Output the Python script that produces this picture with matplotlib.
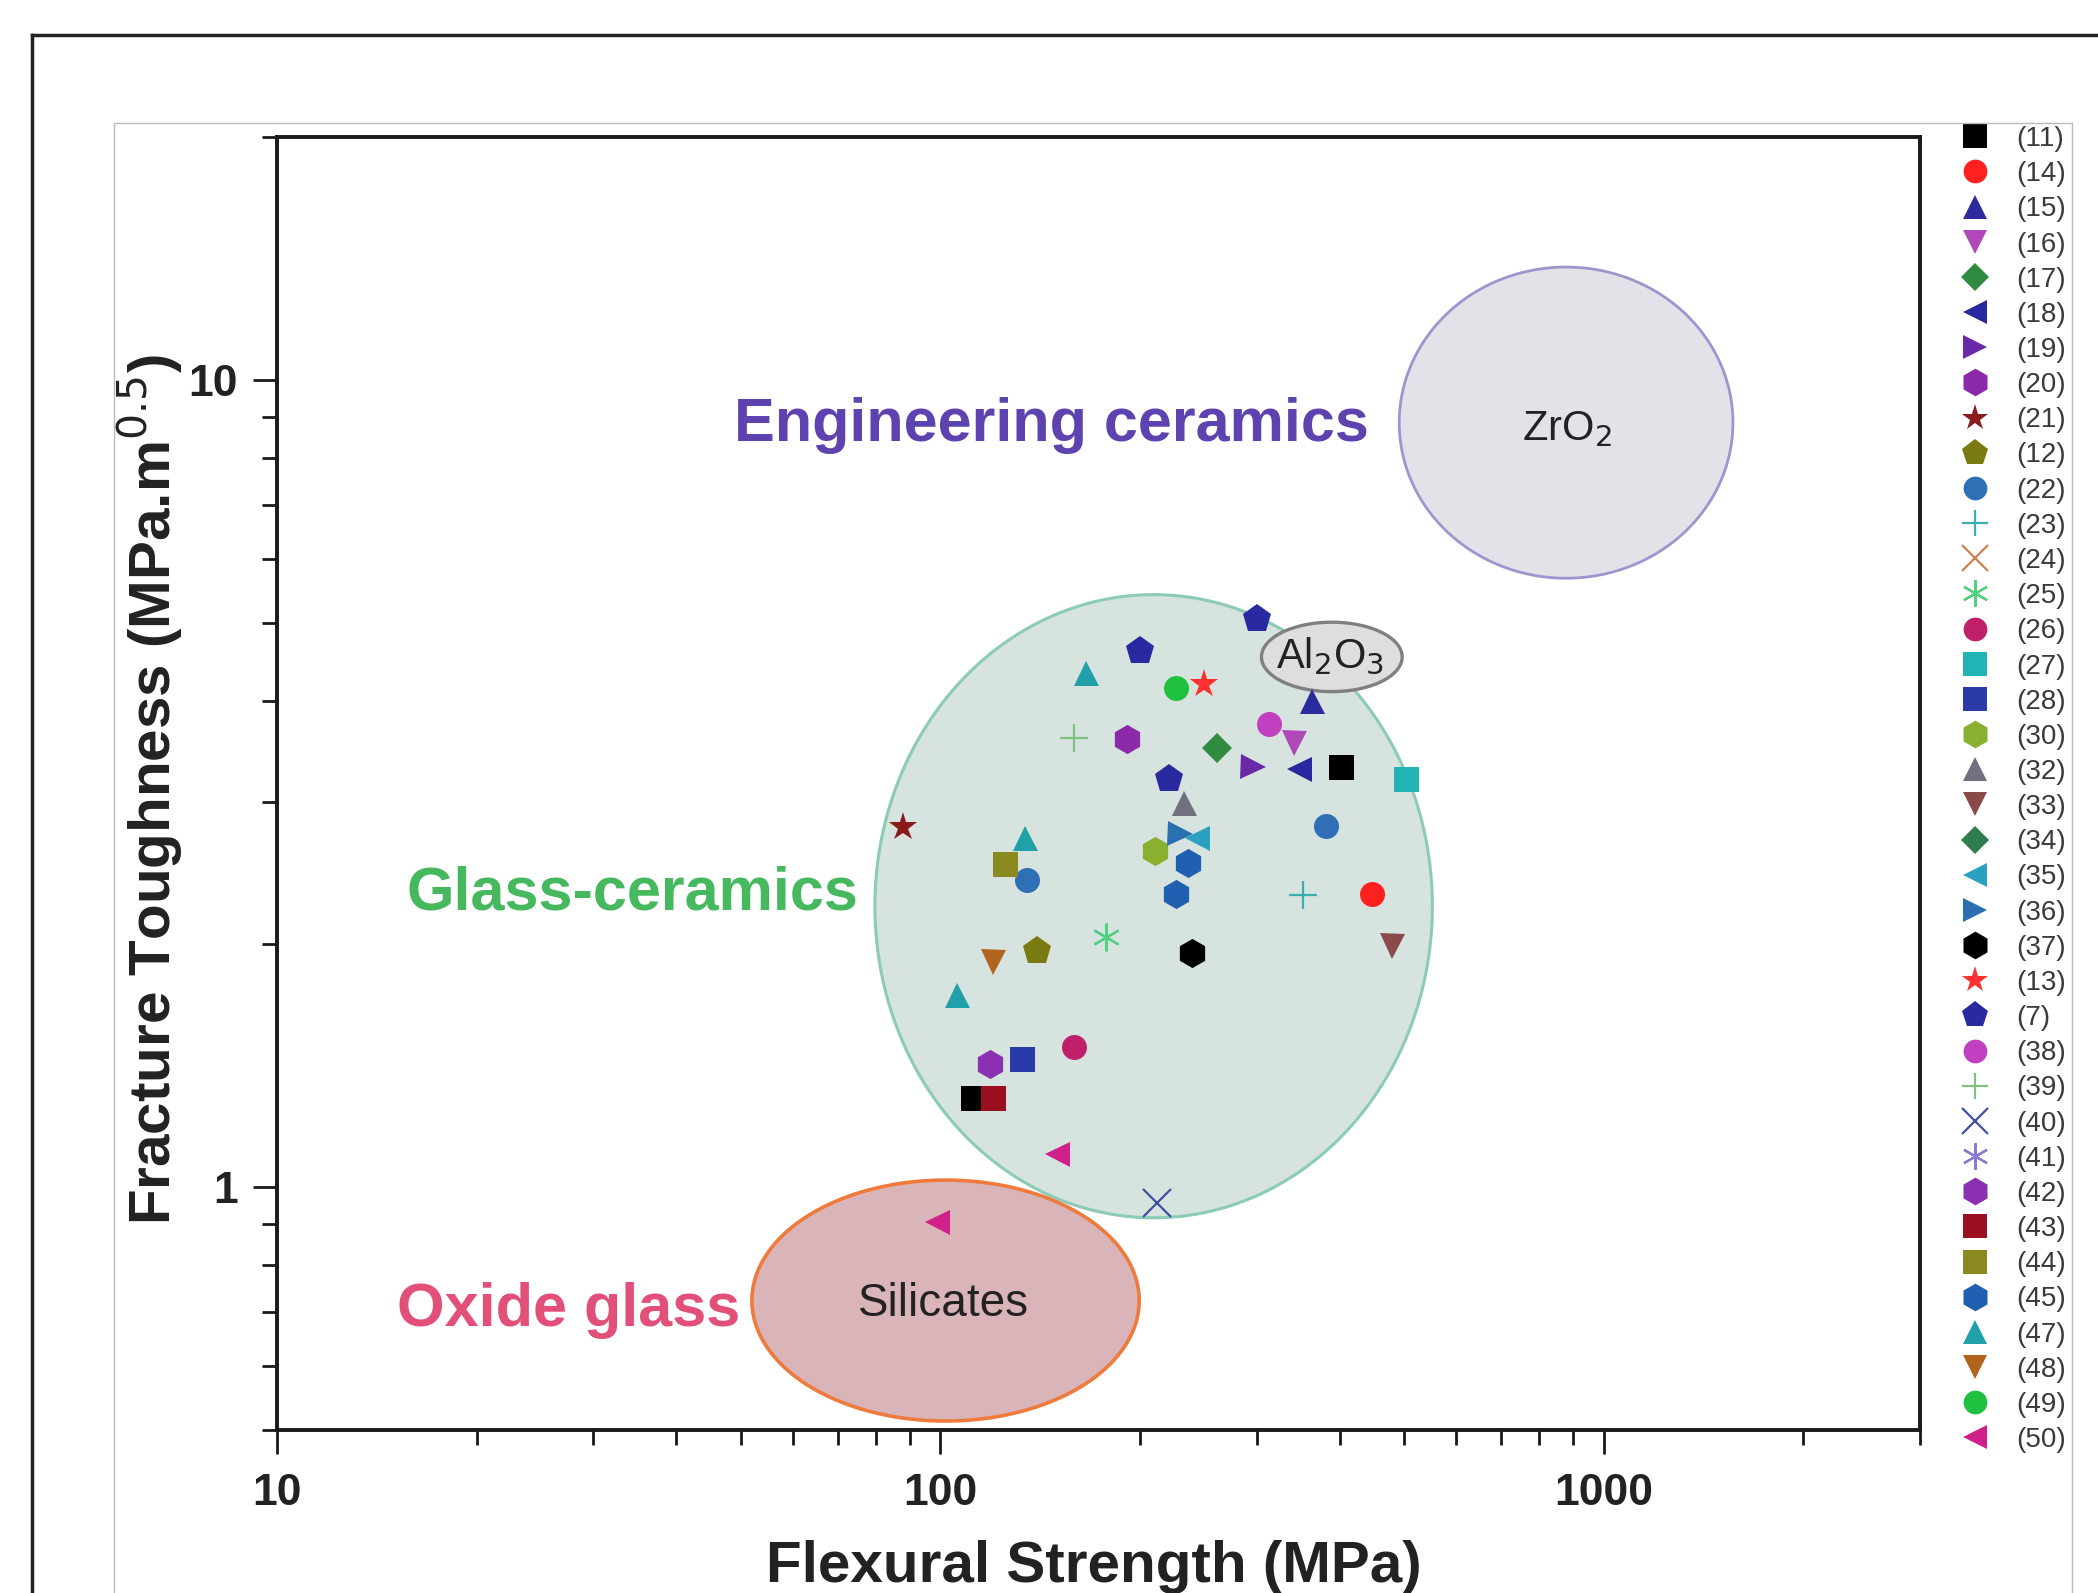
import numpy as np
import matplotlib.pyplot as plt
from matplotlib.lines import Line2D
from matplotlib.ticker import LogLocator, NullFormatter

plt.rcParams['font.family'] = ['Liberation Sans', 'DejaVu Sans']

# reference number -> (strength MPa, toughness MPa.m^0.5) points
refs = ['(11)', '(14)', '(15)', '(16)', '(17)', '(18)', '(19)', '(20)', '(21)', '(12)',
        '(22)', '(23)', '(24)', '(25)', '(26)', '(27)', '(28)', '(30)', '(32)', '(33)',
        '(34)', '(35)', '(36)', '(37)', '(13)', '(7)', '(38)', '(39)', '(40)', '(41)',
        '(42)', '(43)', '(44)', '(45)', '(47)', '(48)', '(49)', '(50)']
strength = [[402, 112], [447], [364], [342], [261], [347], [296], [191], [88], [140],
            [381, 135], [352], [], [178], [159], [503], [133], [211], [233], [480],
            [], [244], [230], [240], [250], [300, 200, 221], [313], [159], [212], [],
            [119], [120], [125], [236, 227], [166, 134, 106], [120], [227], [150, 99]]
toughness = [[3.31, 1.29], [2.31], [4.0], [3.55], [3.50], [3.30], [3.31], [3.59], [2.79], [1.96],
             [2.80, 2.40], [2.30], [], [2.04], [1.49], [3.20], [1.44], [2.61], [2.99], [1.99],
             [], [2.71], [2.74], [1.95], [4.20], [5.05, 4.61, 3.20], [3.75], [3.60], [0.955], [],
             [1.42], [1.29], [2.51], [2.52, 2.31], [4.33, 2.71, 1.73], [1.90], [4.15], [1.10, 0.905]]

star6 = (6, 2, 0)
markers = ['s', 'o', '^', 'v', 'D', '<', '>', 'h', '*', 'p',
           'o', '+', 'x', star6, 'o', 's', 's', 'h', '^', 'v',
           'D', '<', '>', 'h', '*', 'p', 'o', '+', 'x', star6,
           'h', 's', 's', 'h', '^', 'v', 'o', '<']
colors = ['#000000', '#ff2020', '#2b2b9e', '#b048b8', '#2e8b40', '#2828a0', '#6a2aa8', '#8b2aa8', '#8b1a1a', '#7a7a12',
          '#2e6fb5', '#38b0b0', '#d08050', '#50d080', '#c0206a', '#22b4b4', '#2a3aa8', '#8ab030', '#707080', '#8a4a4a',
          '#2e7d4e', '#2ba0c0', '#2a70b0', '#000000', '#ff3030', '#2a2aa0', '#c040c0', '#80c080', '#4050a0', '#8a7ad0',
          '#8a30b0', '#9a1020', '#8a8a20', '#2060b0', '#20a0a8', '#b0641e', '#20c040', '#d0208a']

# material regions: (strength lo, hi, toughness lo, hi)
zro2 = (492, 1567, 5.68, 13.8)
al2o3 = (305, 497, 4.11, 5.01)
glass_ceramics = (79.7, 552, 0.916, 5.42)
silicates = (52, 199.5, 0.513, 1.02)

W, H = 2098, 1593
fig = plt.figure(figsize=(W / 100, H / 100), dpi=100)


def fx(px):
    return px / W


def fy(py):
    return 1 - py / H


# outer frame and inner panel border
fig.add_artist(Line2D([fx(32), fx(32)], [0, fy(35)], color='#222222', lw=2.5))
fig.add_artist(Line2D([fx(32), 1], [fy(35), fy(35)], color='#222222', lw=2.5))
fig.add_artist(Line2D([fx(114), fx(114), fx(2072), fx(2072)], [0, fy(123), fy(123), 0],
                      color='#bbbbbb', lw=1))

ax = fig.add_axes([fx(277), fy(1430), fx(1920) - fx(277), fy(137) - fy(1430)])
ax.set_xscale('log')
ax.set_yscale('log')
ax.set_xlim(10, 3000)
ax.set_ylim(0.5, 20)


def region(box, fc, ec, lw, z):
    t = np.linspace(0, 2 * np.pi, 400)
    lx0, lx1 = np.log10(box[:2])
    ly0, ly1 = np.log10(box[2:])
    cx, cy = (lx0 + lx1) / 2, (ly0 + ly1) / 2
    rx, ry = (lx1 - lx0) / 2, (ly1 - ly0) / 2
    ax.fill(10 ** (cx + rx * np.cos(t)), 10 ** (cy + ry * np.sin(t)),
            facecolor=fc, edgecolor=ec, lw=lw, zorder=z)


region(zro2, '#e4e2e9', '#a293cf', 2.0, 1)
region(glass_ceramics, '#d6e3de', '#8ccbb5', 2.2, 1)
region(al2o3, '#dedede', '#808080', 2.4, 2)
region(silicates, '#d9b4b8', '#ee7a3c', 2.6, 1)

for lab, xs, ys, m, c in zip(refs, strength, toughness, markers, colors):
    thin = m in ('+', 'x', star6)
    if thin:
        ms = 20
    elif m == 'D':
        ms = 15
    elif m in ('*', 'p', 'h'):
        ms = 21
    else:
        ms = 18
    ax.plot(xs, ys, ls='none', marker=m, color=c, ms=ms,
            mew=1.6 if thin else 0, label=lab, zorder=3)

ax.text(147, 8.79, 'Engineering ceramics', color='#5d42b0', fontsize=44,
        fontweight='bold', ha='center', va='center')
ax.text(34.3, 2.31, 'Glass-ceramics', color='#46b85e', fontsize=44,
        fontweight='bold', ha='center', va='center')
ax.text(27.5, 0.703, 'Oxide glass', color='#e2507a', fontsize=44,
        fontweight='bold', ha='center', va='center')
ax.text(879, 8.69, 'ZrO$_2$', color='#222222', fontsize=30, ha='center', va='center')
ax.text(387, 4.54, 'Al$_2$O$_3$', color='#222222', fontsize=30, ha='center', va='center', zorder=4)
ax.text(101, 0.716, 'Silicates', color='#222222', fontsize=33, ha='center', va='center')

for s in ax.spines.values():
    s.set_linewidth(2.8)
    s.set_color('#1a1a1a')

ax.set_xticks([10, 100, 1000])
ax.set_xticklabels(['10', '100', '1000'], fontweight='bold', fontsize=32, color='#222222')
ax.set_yticks([1, 10])
ax.set_yticklabels(['1', '10'], fontweight='bold', fontsize=32, color='#222222')
ax.xaxis.set_minor_locator(LogLocator(base=10, subs=np.arange(2, 10)))
ax.yaxis.set_minor_locator(LogLocator(base=10, subs=np.arange(2, 10)))
ax.xaxis.set_minor_formatter(NullFormatter())
ax.yaxis.set_minor_formatter(NullFormatter())
ax.tick_params(which='major', direction='out', length=17, width=2, color='#1a1a1a')
ax.tick_params(which='minor', direction='out', length=10.5, width=2, color='#1a1a1a')
ax.tick_params(axis='x', which='major', pad=14)
ax.tick_params(axis='y', which='major', pad=11)

fig.text(fx(1094), fy(1567), 'Flexural Strength (MPa)', fontsize=42,
         fontweight='bold', color='#222222', ha='center', va='center')
fig.text(fx(150), fy(790), 'Fracture Toughness (MPa.m$^{0.5}$)', fontsize=42,
         fontweight='bold', color='#222222', ha='center', va='center', rotation=90)

leg = ax.legend(loc='upper left', bbox_to_anchor=(fx(1961), fy(126)),
                bbox_transform=fig.transFigure, frameon=False,
                handlelength=1.0, handletextpad=1.0, labelspacing=0.33,
                borderpad=0, borderaxespad=0, markerscale=0.95,
                prop={'family': ['Liberation Sans Narrow', 'Liberation Sans'], 'size': 20})
for t in leg.get_texts():
    t.set_color('#3a3a3a')

fig.savefig('out.png', dpi=100)
